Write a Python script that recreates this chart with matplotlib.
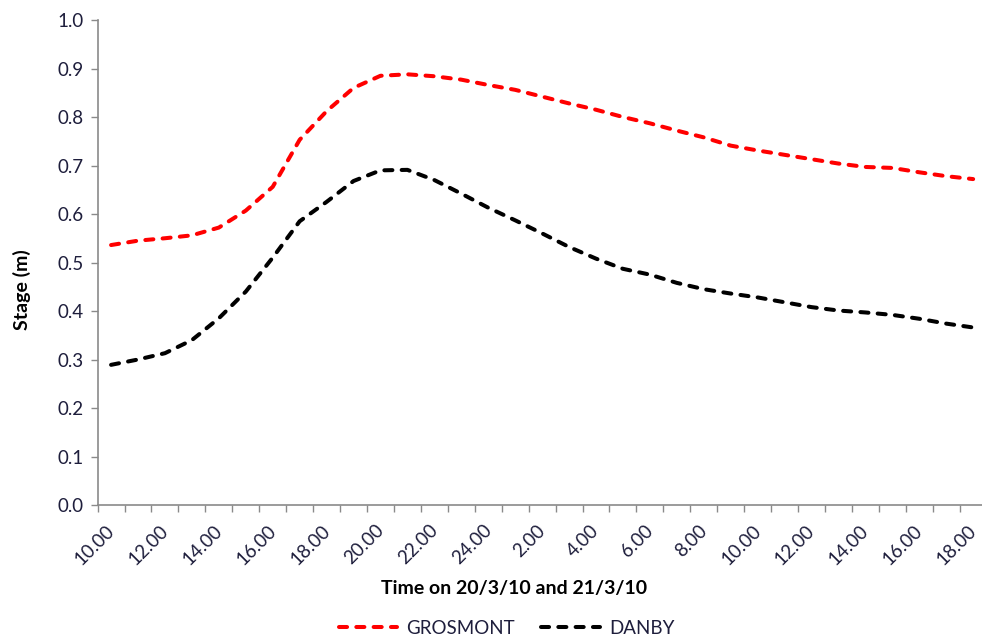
import numpy as np
import matplotlib.pyplot as plt
import matplotlib.transforms as mtransforms

plt.rcParams['font.family'] = ['Lato', 'DejaVu Sans']

hours = [10, 11, 12, 13, 14, 15, 16, 17, 18, 19, 20, 21, 22, 23, 24,
         1, 2, 3, 4, 5, 6, 7, 8, 9, 10, 11, 12, 13, 14, 15, 16, 17, 18]
labels = ['%d.00' % h for h in hours]

grosmont = [0.536, 0.545, 0.550, 0.556, 0.572, 0.607, 0.656, 0.753, 0.812,
            0.860, 0.885, 0.888, 0.884, 0.877, 0.866, 0.856, 0.842, 0.828,
            0.815, 0.800, 0.787, 0.772, 0.758, 0.741, 0.731, 0.722, 0.713,
            0.704, 0.697, 0.695, 0.686, 0.678, 0.672]
danby = [0.289, 0.300, 0.313, 0.340, 0.385, 0.440, 0.510, 0.585, 0.625,
         0.668, 0.690, 0.691, 0.670, 0.642, 0.613, 0.587, 0.560, 0.532,
         0.508, 0.487, 0.475, 0.458, 0.445, 0.436, 0.428, 0.418, 0.408,
         0.401, 0.397, 0.392, 0.384, 0.374, 0.366]

x = np.arange(len(hours))
txt = '#1e1e3c'
grey = '#8a8a8a'

fig = plt.figure(figsize=(9.82, 6.39), dpi=100)
ax = fig.add_axes([0.0994, 0.2097, 0.9053, 0.759])

ax.plot(x, grosmont, color='#ff0000', lw=2.9, dashes=(2, 2.3),
        dash_capstyle='round', label='GROSMONT')
ax.plot(x, danby, color='#000000', lw=2.9, dashes=(2, 2.3),
        dash_capstyle='round', label='DANBY')

ax.set_xlim(-0.5, len(hours) - 0.5)
ax.set_ylim(0, 1.0)
ax.set_yticks(np.arange(0, 1.01, 0.1))
ax.set_yticklabels(['%.1f' % v for v in np.arange(0, 1.01, 0.1)])
ax.set_xticks(x[::2])
ax.set_xticklabels(labels[::2], rotation=45, ha='right', rotation_mode='anchor')
ax.set_xticks(np.arange(-0.5, len(hours), 1), minor=True)
ax.tick_params(axis='x', which='major', length=0, pad=12, labelsize=13.5, labelcolor=txt)
ax.tick_params(axis='x', which='minor', length=5, color=grey, width=1)
ax.tick_params(axis='y', length=5, color=grey, width=1, pad=5, labelsize=13.5, labelcolor=txt)

# nudge rotated labels a little left so the last one stays inside the figure
shift = mtransforms.ScaledTranslation(-4 / 72, 0, fig.dpi_scale_trans)
for lab in ax.get_xticklabels():
    lab.set_transform(lab.get_transform() + shift)

for s in ['top', 'right']:
    ax.spines[s].set_visible(False)
for s in ['left', 'bottom']:
    ax.spines[s].set_color(grey)
    ax.spines[s].set_linewidth(1.2)

fig.text(0.523, 0.079, 'Time on 20/3/10 and 21/3/10', ha='center', va='center',
         fontsize=14, fontweight='bold')
fig.text(0.022, 0.546, 'Stage (m)', ha='center', va='center', rotation=90,
         fontsize=14, fontweight='bold')

fig.legend(loc='center', bbox_to_anchor=(0.516, 0.017), ncol=2, frameon=False,
           fontsize=13.5, handlelength=3.1, handletextpad=0.5, columnspacing=1.4,
           labelcolor=txt)

fig.savefig('out.png', dpi=100)
